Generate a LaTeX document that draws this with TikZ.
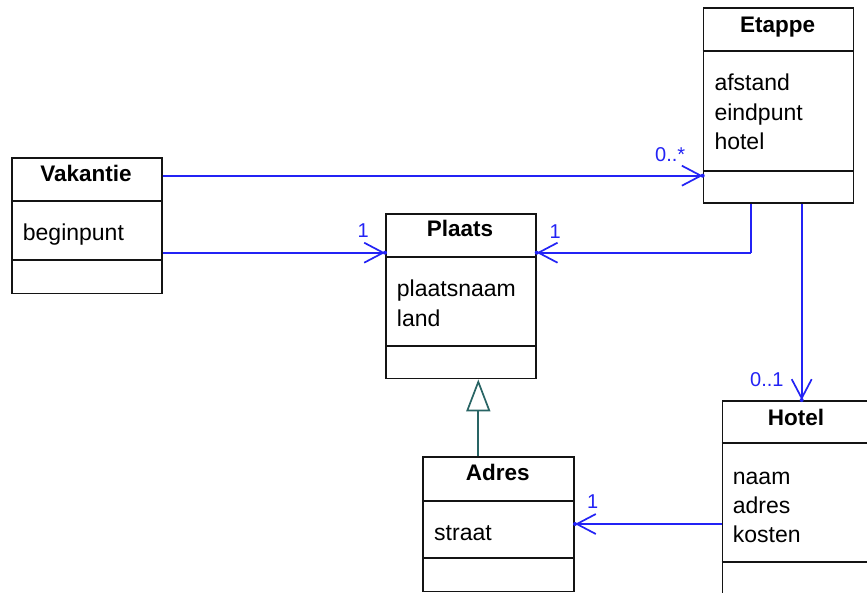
\documentclass[tikz,border=0pt]{standalone}
\usepackage{fontspec}
\setmainfont{Liberation Sans}
\usetikzlibrary{arrows.meta}
\definecolor{assocblue}{RGB}{35,35,245}
\definecolor{genteal}{RGB}{40,100,100}
\definecolor{boxline}{RGB}{20,20,20}
\tikzset{
  classbox/.style={draw=boxline, line width=1.7pt, fill=white, anchor=north west, inner sep=0pt, minimum width=150pt},
  compline/.style={draw=boxline, line width=1.7pt},
  ctitle/.style={anchor=base, inner sep=0pt, font=\fontsize{22.5}{27}\selectfont\bfseries},
  cattr/.style={anchor=base west, inner sep=0pt, align=left, font=\fontsize{23}{29.6}\selectfont},
  assoc/.style={draw=assocblue, line width=1.7pt, -{Straight Barb[length=19pt,width=20pt]}},
  assocline/.style={draw=assocblue, line width=1.7pt},
  mult/.style={anchor=base west, inner sep=0pt, text=assocblue, font=\fontsize{20}{24}\selectfont},
  gen/.style={draw=genteal, line width=1.7pt, -{Triangle[open,length=32pt,width=24pt,fill=white]}},
  tipdot/.style={fill=assocblue, draw=none}
}
\begin{document}
\begin{tikzpicture}[x=1pt,y=-1pt]
\useasboundingbox (0,0) rectangle (867,592);
\clip (0,0) rectangle (867,592);
\fill[white] (0,0) rectangle (867,592);

% class boxes
\node[classbox, minimum height=135.7pt] (vak) at (11,157) {};
\node[classbox, minimum height=195pt] (et) at (702.7,7.3) {};
\node[classbox, minimum height=164.7pt] (pl) at (385,213) {};
\node[classbox, minimum height=230pt] (ho) at (721.7,400) {};
\node[classbox, minimum width=151pt, minimum height=134.7pt] (ad) at (422.3,456) {};

% compartments
\draw[compline] ([yshift=-43.7pt]vak.north west) -- ([yshift=-43.7pt]vak.north east);
\draw[compline] ([yshift=-103pt]vak.north west) -- ([yshift=-103pt]vak.north east);
\draw[compline] ([yshift=-43.4pt]et.north west) -- ([yshift=-43.4pt]et.north east);
\draw[compline] ([yshift=-163.4pt]et.north west) -- ([yshift=-163.4pt]et.north east);
\draw[compline] ([yshift=-43.7pt]pl.north west) -- ([yshift=-43.7pt]pl.north east);
\draw[compline] ([yshift=-133pt]pl.north west) -- ([yshift=-133pt]pl.north east);
\draw[compline] ([yshift=-43pt]ho.north west) -- ([yshift=-43pt]ho.north east);
\draw[compline] ([yshift=-162pt]ho.north west) -- ([yshift=-162pt]ho.north east);
\draw[compline] ([yshift=-44.7pt]ad.north west) -- ([yshift=-44.7pt]ad.north east);
\draw[compline] ([yshift=-102.3pt]ad.north west) -- ([yshift=-102.3pt]ad.north east);

% titles
\node[ctitle] (vakT) at (86,181.7) {Vakantie};
\node[ctitle] (etT) at (777.7,32.3) {Etappe};
\node[ctitle] (plT) at (460,236.7) {Plaats};
\node[ctitle] (hoT) at (796,425) {Hotel};
\node[ctitle] (adT) at (497.8,480.7) {Adres};

% attributes
\node[cattr] (vakA) at (22.7,240) {beginpunt};
\node[cattr] (etA1) at (714.3,90.7) {afstand};
\node[cattr] (etA2) at (714.3,120.2) {eindpunt};
\node[cattr] (etA3) at (714.3,149.8) {hotel};
\node[cattr] (plA1) at (396.7,296.7) {plaatsnaam};
\node[cattr] (plA2) at (396.7,326) {land};
\node[cattr] (hoA1) at (732.7,484) {naam};
\node[cattr] (hoA2) at (732.7,513.3) {adres};
\node[cattr] (hoA3) at (732.7,542.7) {kosten};
\node[cattr] (adA) at (434,540) {straat};

% associations
\draw[assoc] ([yshift=-18.7pt]vak.north east) -- ([yshift=-18.7pt]vak.north east -| et.west) coordinate (tipA);
\draw[assoc] ([yshift=-95.7pt]vak.north east) -- ([yshift=-95.7pt]vak.north east -| pl.west) coordinate (tipB);
\coordinate (etL) at (750.7,0);
\coordinate (etR) at (801.7,0);
\draw[assocline] (etL |- et.south) -- (etL |- tipB);
\draw[assoc] (etL |- tipB) -- (tipB -| pl.east) coordinate (tipC);
\draw[assoc] (etR |- et.south) -- (etR |- ho.north) coordinate (tipD);
\draw[assoc] ([yshift=-124pt]ho.north west) -- ([yshift=-124pt]ho.north west -| ad.east) coordinate (tipE);
\foreach \t in {tipA,tipB,tipC,tipD,tipE} \fill[tipdot] (\t) circle (2pt);

% generalization
\coordinate (genx) at (478.3,0);
\draw[gen] (genx |- ad.north) -- (genx |- pl.south);

% multiplicities
\node[mult] (mA) at (655,161.7) {0..*};
\node[mult] (mB) at (357.5,237) {1};
\node[mult] (mC) at (549.5,238) {1};
\node[mult] (mD) at (750,386) {0..1};
\node[mult] (mE) at (587,508.3) {1};
\end{tikzpicture}
\end{document}
